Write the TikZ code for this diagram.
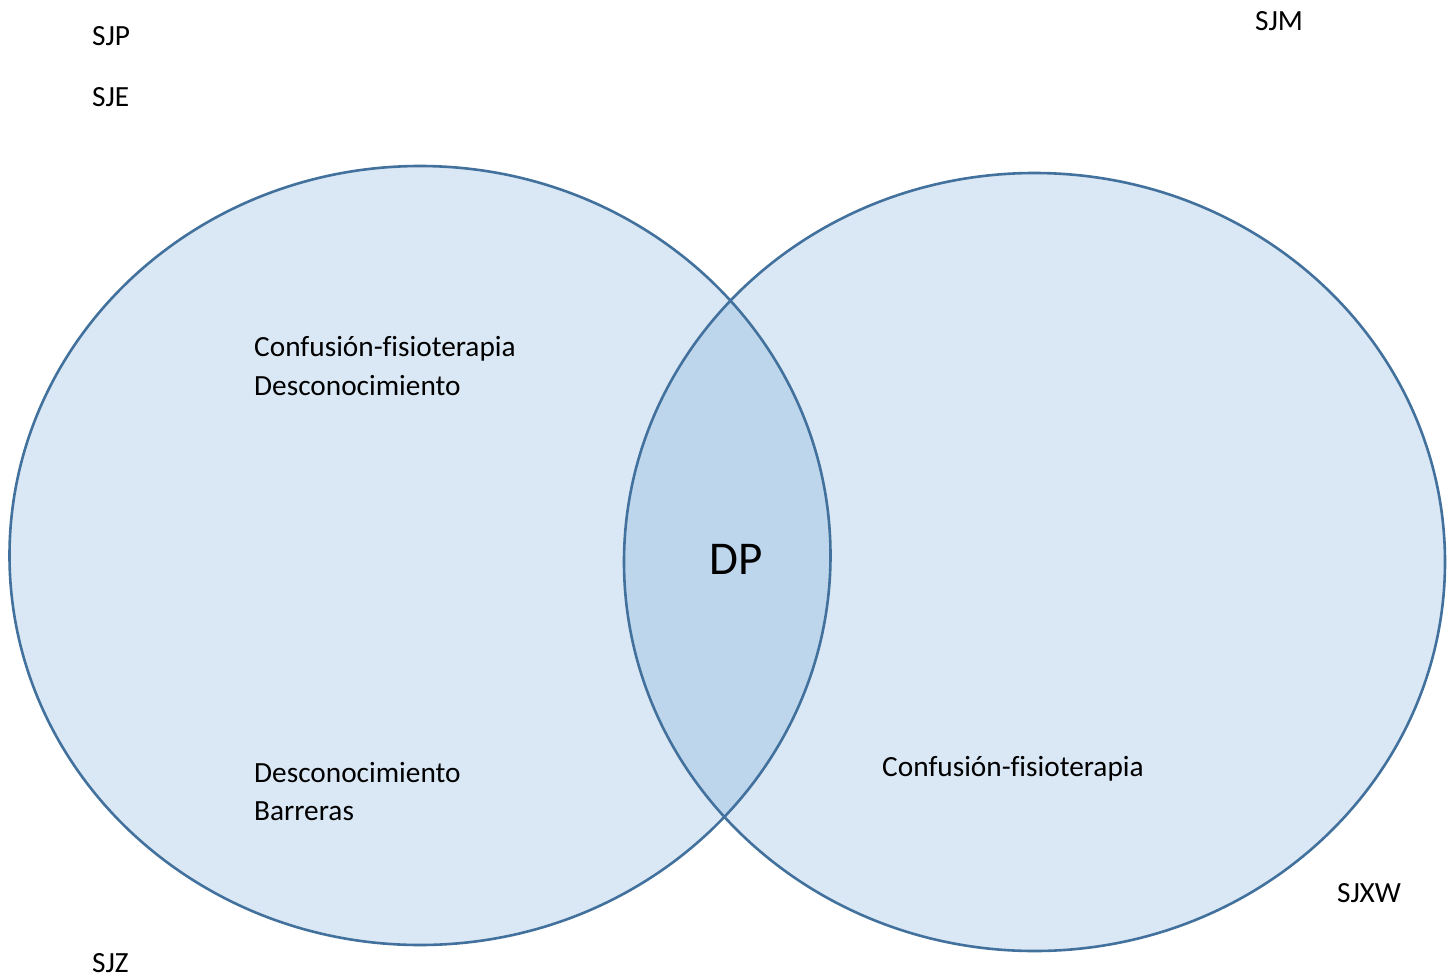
\documentclass[tikz,border=0pt]{standalone}
\usepackage{fontspec}
\setmainfont[Ligatures=NoCommon]{Carlito}
\definecolor{vfill}{HTML}{DAE7F4}
\definecolor{vmid}{HTML}{BDD6EC}
\definecolor{vline}{HTML}{41719C}
\begin{document}
\begin{tikzpicture}[x=1pt,y=-1pt,
  lbl/.style={anchor=base west,inner sep=0pt,font=\fontsize{29.3}{35}\selectfont},
  setshape/.style={draw=vline,line width=2.6pt}]
\useasboundingbox (0,0) rectangle (1453,977);
% sets
\fill[vfill] (420,555.5) ellipse [x radius=410.5,y radius=389.5];
\fill[vfill] (1034.5,562) ellipse [x radius=410.5,y radius=389];
\begin{scope}
\clip (420,555.5) ellipse [x radius=410.5,y radius=389.5];
\fill[vmid] (1034.5,562) ellipse [x radius=410.5,y radius=389];
\end{scope}
\draw[setshape] (420,555.5) ellipse [x radius=410.5,y radius=389.5];
\draw[setshape] (1034.5,562) ellipse [x radius=410.5,y radius=389];
% labels
\node[lbl] (sjp) at (92,45) {SJP};
\node[lbl] (sje) at (92,106) {SJE};
\node[lbl] (sjm) at (1255,30) {SJM};
\node[lbl] (sjz) at (92,972) {SJZ};
\node[lbl] (sjxw) at (1337,902) {SJXW};
\node[lbl] (l1) at (254,356) {Confusión-fisioterapia};
\node[lbl] (l2) at (254,395) {Desconocimiento};
\node[lbl] (l3) at (254,782) {Desconocimiento};
\node[lbl] (l4) at (254,820) {Barreras};
\node[lbl] (r1) at (882,776) {Confusión-fisioterapia};
\node[anchor=base,inner sep=0pt,font=\fontsize{47}{56}\selectfont] (dp) at (736,574) {DP};
\end{tikzpicture}
\end{document}
